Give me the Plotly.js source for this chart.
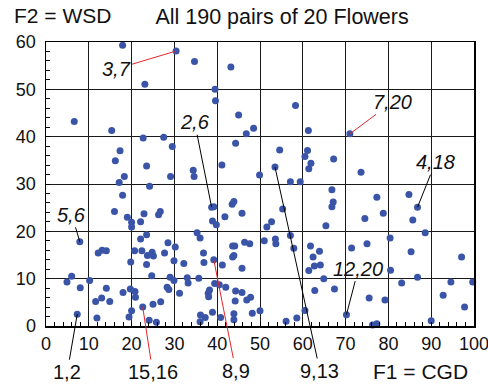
<!DOCTYPE html>
<html>
<head>
<meta charset="utf-8">
<script src="https://cdn.plot.ly/plotly-3.0.1.min.js"></script>
<style>html,body{margin:0;padding:0;background:#fff;}#chart{width:488px;height:389px;}</style>
</head>
<body>
<div id="chart"></div>
<script>
// F1 = CGD values of the 190 flower pairs
const f1 = [
17.9,30.4,34.7,43.2,23.1,39.5,39.6,58.3,45.0,6.6,48.5,15.35,61.3,46.8,71.0,22.7,27.5,29.5,44.3,17.3,
54.6,61.1,60.5,16.2,67.2,61.9,23.5,41.1,53.5,61.4,34.4,18.3,29.1,34.6,49.9,73.6,57.1,59.4,17.1,
24.2,66.8,17.9,77.3,84.8,67.1,43.9,43.5,66.8,86.8,38.7,39.2,55.3,16.0,26.7,26.3,22.9,45.8,78.8,19.0,
41.8,74.5,85.7,38.9,20.0,22.1,52.7,39.8,65.4,20.0,51.6,
35.3,88.6,23.5,57.1,36.0,80.4,22.1,53.6,51.0,7.9,28.5,46.4,47.6,53.7,75.0,43.6,44.1,61.8,30.2,71.4,
57.9,13.1,14.1,20.7,22.4,63.9,85.3,24.8,12.2,27.7,36.8,23.7,25.1,43.9,43.6,62.4,97.1,39.2,29.9,19.8,
36.9,32.2,23.5,41.2,62.7,64.1,45.8,80.5,61.4,24.7,6.0,29.0,86.8,33.0,35.7,64.9,
29.9,10.2,4.9,94.6,99.7,33.2,39.4,83.1,40.5,28.3,42.0,8.0,14.1,19.7,28.7,67.4,38.2,62.8,44.3,20.8,
18.0,45.8,37.9,31.2,92.8,38.0,20.9,47.8,13.0,75.5,46.9,79.2,44.2,11.6,14.9,26.8,25.0,22.6,97.8,60.5,
20.0,50.0,38.9,48.2,43.9,7.3,70.2,36.1,19.4,37.2,11.9,40.8,58.6,43.9,24.1,90.0,56.1,36.0,25.8,77.3,76.3
];
// F2 = WSD values
const f2 = [
59.3,58.1,55.9,54.7,51.1,50.0,47.6,46.6,44.6,43.2,41.8,41.3,41.3,40.6,40.6,39.7,39.9,37.9,38.6,37.0,
37.2,37.1,35.8,34.9,35.3,34.4,33.8,34.0,33.6,33.2,32.9,31.6,31.6,31.6,31.9,32.5,30.5,30.5,30.3,
29.5,28.8,27.6,27.2,27.8,26.2,26.3,25.7,25.2,25.1,25.1,25.2,24.7,24.2,24.2,23.5,23.7,23.8,23.8,23.0,
23.1,22.7,22.4,22.2,21.9,22.0,22.0,21.4,21.2,20.9,20.9,
19.7,19.7,19.3,19.1,18.6,18.6,18.4,18.4,18.0,17.8,17.6,17.7,17.4,17.4,17.4,16.9,16.9,16.9,16.7,16.5,
16.4,16.0,15.9,15.9,15.9,15.8,15.7,15.6,15.4,15.4,15.4,14.9,14.8,14.9,14.6,14.6,14.6,14.0,13.8,13.5,
13.4,13.2,13.0,12.9,12.7,12.9,12.2,11.8,11.7,10.6,10.5,10.3,10.3,10.2,10.1,10.0,
9.6,9.6,9.3,9.3,9.3,9.1,9.0,9.1,8.7,8.2,8.2,8.1,8.0,7.8,7.7,7.8,7.6,7.5,7.4,7.3,
7.1,7.1,6.9,6.9,6.5,6.2,6.1,6.1,5.9,5.9,5.5,5.5,5.3,5.2,5.2,5.1,4.6,4.0,4.0,3.3,
3.2,3.2,2.9,2.7,2.6,2.5,2.4,2.3,1.9,1.8,1.7,1.8,1.7,1.3,1.2,1.1,1.0,0.9,0.8,0.5,0.2
];
// labelled pairs
const pairNames = ['3,7','2,6','7,20','4,18','5,6','12,20','1,2','15,16','8,9','9,13'];
const pairF1    = [30.4, 38.7, 71.0, 86.8, 7.9, 70.2, 7.3, 22.6, 39.2, 53.5];
const pairF2    = [58.1, 25.1, 40.6, 25.1, 17.8, 2.4, 2.5, 4.0, 14.0, 33.6];

const xTicks = [0,10,20,30,40,50,60,70,80,90,100];
const yTicks = [0,10,20,30,40,50,60];

// styling of the callouts (pixel offsets, colours, italics)
const RED = '#e3262b', BLK = '#000';
const calloutStyle = {
  '3,7':  {ax:-60, ay:18,  c:RED, it:true},
  '2,6':  {ax:-17, ay:-85, c:BLK, it:true},
  '7,20': {ax:43,  ay:-32, c:RED, it:true},
  '4,18': {ax:18,  ay:-45, c:BLK, it:true},
  '5,6':  {ax:-8,  ay:-27, c:BLK, it:true},
  '12,20':{ax:12,  ay:-46, c:BLK, it:true},
  '1,2':  {ax:-10, ay:58,  c:BLK, it:false},
  '15,16':{ax:10,  ay:65,  c:RED, it:false},
  '8,9':  {ax:22,  ay:111, c:RED, it:false},
  '9,13': {ax:45,  ay:204, c:BLK, it:false}
};

const FONT = 'Liberation Sans, Arial, sans-serif';
const annotations = pairNames.map((n,i)=>{
  const s = calloutStyle[n];
  return {
    x: pairF1[i], y: pairF2[i], xref:'x', yref:'y',
    text: s.it ? '<i>'+n+'</i>' : n,
    showarrow:true, arrowhead:0, arrowwidth:1, arrowcolor:s.c,
    ax:s.ax, ay:s.ay, standoff:0,
    font:{family:FONT, size:20, color:'#111'}
  };
});
annotations.push({xref:'paper', yref:'paper', x:-0.08, y:1.095, xanchor:'left', yanchor:'middle',
  text:'F2 = WSD', showarrow:false, font:{family:FONT, size:21, color:'#111'}});
annotations.push({xref:'paper', yref:'paper', x:0.99, y:-0.161, xanchor:'right', yanchor:'middle',
  text:'F1 = CGD', showarrow:false, font:{family:FONT, size:21, color:'#111'}});

const trace = {
  x:f1, y:f2, type:'scatter', mode:'markers',
  marker:{size:7, color:'#3a55a8'}, cliponaxis:false, hoverinfo:'none'
};

const axisCommon = {
  showline:true, mirror:true, linecolor:'#000', linewidth:1.5,
  showgrid:true, gridcolor:'#1a1a1a', gridwidth:1, zeroline:false,
  ticks:'inside', ticklen:0, tickcolor:'#000',
  tickfont:{family:FONT, size:18, color:'#111'},
  ticklabeloverflow:'allow',
  minor:{dtick:2, ticks:'inside', ticklen:4, tickcolor:'#000', showgrid:false}
};

const layout = {
  width:488, height:389,
  margin:{l:46, r:14, t:42, b:63},
  paper_bgcolor:'#fff', plot_bgcolor:'#fff',
  showlegend:false,
  title:{text:'All 190 pairs of 20 Flowers', x:0.578, xanchor:'center', y:0.958, yanchor:'middle',
    font:{family:FONT, size:21.5, color:'#111'}},
  xaxis:Object.assign({}, axisCommon, {range:[0,100], tickvals:xTicks, ticktext:xTicks.map(String), ticklabelstandoff:1}),
  yaxis:Object.assign({}, axisCommon, {range:[0,60], tickvals:yTicks, ticktext:yTicks.map(String), ticklabelstandoff:5}),
  annotations:annotations
};

Plotly.newPlot('chart', [trace], layout, {staticPlot:true, displayModeBar:false});
</script>
</body>
</html>
